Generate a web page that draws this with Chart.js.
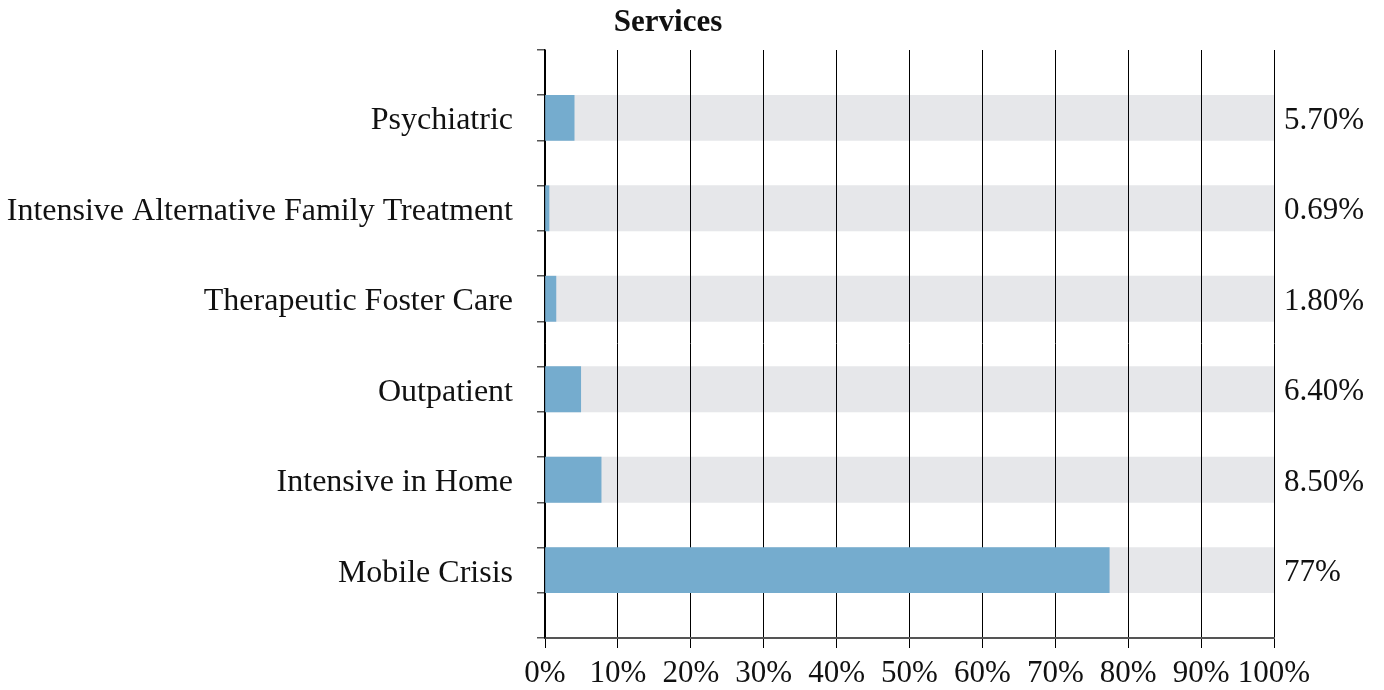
<!DOCTYPE html>
<html>
<head>
<meta charset="utf-8">
<script src="https://cdn.jsdelivr.net/npm/chart.js@4.4.1/dist/chart.umd.min.js"></script>
<style>
  html, body { margin: 0; padding: 0; background: #fff; }
</style>
</head>
<body>
<canvas id="myChart" width="1384" height="690"></canvas>
<script>
// Services chart data
const categories = ['Psychiatric', 'Intensive Alternative Family Treatment', 'Therapeutic Foster Care', 'Outpatient', 'Intensive in Home', 'Mobile Crisis'];
const barValues = [4.0, 0.55, 1.5, 4.9, 7.7, 77.4];
const valueLabels = ['5.70%', '0.69%', '1.80%', '6.40%', '8.50%', '77%'];
const fullValues = [100, 100, 100, 100, 100, 100];
const xTicks = [0, 10, 20, 30, 40, 50, 60, 70, 80, 90, 100];

// each category sits between two empty spacer slots
let slotLabels = [''];
let slotBars = [null];
let slotFull = [null];
categories.forEach((c, i) => {
    slotLabels.push(c, '');
    slotBars.push(barValues[i], null);
    slotFull.push(fullValues[i], null);
});

const serif = '"Liberation Serif", "Times New Roman", serif';

// value text at the right end + title
const extras = {
    id: 'extras',
    afterDraw(chart) {
        const c = chart.ctx;
        const area = chart.chartArea;
        const y = chart.scales.y;
        c.save();
        c.fillStyle = '#111';
        c.font = '31px ' + serif;
        c.textAlign = 'left';
        c.textBaseline = 'middle';
        categories.forEach((cat, i) => {
            c.fillText(valueLabels[i], area.right + 10, y.getPixelForValue(i * 2 + 1) + 3);
        });
        c.font = 'bold 31px ' + serif;
        c.textAlign = 'center';
        c.textBaseline = 'alphabetic';
        c.fillText('Services', 668, 31);
        c.restore();
    }
};

let ctx = document.getElementById('myChart');
let myChart = new Chart(ctx, {
    type: 'bar',
    data: {
        labels: slotLabels,
        datasets: [{
            data: slotBars,
            backgroundColor: '#75acce',
            grouped: false,
            barPercentage: 1,
            categoryPercentage: 1
        }, {
            data: slotFull,
            backgroundColor: 'rgba(30,40,60,0.11)',
            grouped: false,
            barPercentage: 1,
            categoryPercentage: 1
        }]
    },
    options: {
        indexAxis: 'y',
        responsive: false,
        animation: false,
        layout: { padding: { top: 50, right: 110, left: 0, bottom: 0 } },
        plugins: {
            legend: { display: false },
            tooltip: { enabled: false }
        },
        scales: {
            x: {
                min: 0,
                max: 100,
                afterBuildTicks(scale) {
                    scale.ticks = xTicks.map(v => ({ value: v }));
                },
                afterFit(scale) { scale.height = 52; },
                grid: {
                    color: '#000',
                    lineWidth: 1,
                    tickLength: 10,
                    tickColor: '#000'
                },
                border: { color: '#555', width: 2 },
                ticks: {
                    color: '#111',
                    font: { family: serif, size: 31 },
                    padding: 7,
                    maxRotation: 0,
                    minRotation: 0,
                    autoSkip: false,
                    callback: v => v + '%'
                }
            },
            y: {
                afterFit(scale) { scale.width = 545; },
                grid: {
                    drawOnChartArea: false,
                    tickLength: 8,
                    tickColor: '#555',
                    lineWidth: 1.5
                },
                border: { color: '#000', width: 1.5 },
                ticks: {
                    autoSkip: false,
                    color: '#111',
                    font: { family: serif, size: 32 },
                    padding: 24,
                    labelOffset: 3
                }
            }
        }
    },
    plugins: [extras]
});
</script>
</body>
</html>
